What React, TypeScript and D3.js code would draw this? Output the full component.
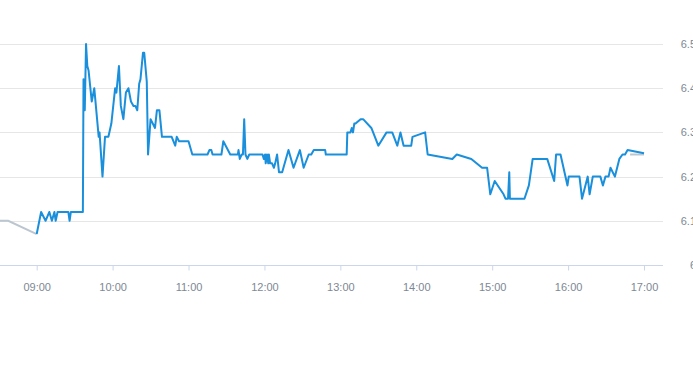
import React, { useRef, useEffect } from "react";
import * as d3 from "d3";

// intraday price, blue series
const times = [
  "09:00:00", "09:03:30", "09:07:00", "09:10:00", "09:12:00", "09:14:00", "09:15:00", "09:16:30",
  "09:25:00", "09:26:00", "09:27:00", "09:36:30", "09:37:00", "09:38:00", "09:39:00", "09:40:00",
  "09:41:00", "09:43:30", "09:45:30", "09:49:00", "09:49:40", "09:52:00", "09:54:00", "09:56:40",
  "09:59:00", "10:02:00", "10:03:00", "10:05:00", "10:06:30", "10:08:30", "10:10:30", "10:12:30",
  "10:14:30", "10:16:30", "10:18:00", "10:19:30", "10:21:00", "10:22:00", "10:24:00", "10:25:00",
  "10:27:00", "10:28:00", "10:30:00", "10:33:30", "10:35:00", "10:37:00", "10:39:00", "10:46:40",
  "10:49:30", "10:50:40", "10:52:30", "11:00:00", "11:03:00", "11:15:00", "11:16:30", "11:18:00",
  "11:19:00", "11:26:00", "11:27:30", "11:33:00", "11:39:00", "11:39:30", "11:40:30", "11:42:00",
  "11:43:00", "11:44:00", "11:45:00", "11:46:30", "11:48:00", "11:58:30", "11:59:30", "12:00:30",
  "12:01:00", "12:02:00", "12:03:00", "12:03:30", "12:04:30", "12:06:00", "12:07:30", "12:08:30",
  "12:10:00", "12:11:30", "12:14:00", "12:19:00", "12:23:00", "12:28:00", "12:31:00", "12:35:00",
  "12:37:00", "12:39:00", "12:48:00", "12:48:30", "13:05:00", "13:05:30", "13:08:00", "13:09:00",
  "13:10:00", "13:11:00", "13:12:00", "13:16:00", "13:18:00", "13:24:30", "13:30:00", "13:36:30",
  "13:41:00", "13:45:00", "13:47:30", "13:50:00", "13:56:00", "13:57:00", "14:07:00", "14:09:00",
  "14:28:30", "14:32:00", "14:43:30", "14:52:00", "14:56:00", "14:58:30", "15:02:00", "15:09:00",
  "15:10:30", "15:12:30", "15:13:30", "15:14:00", "15:25:30", "15:29:00", "15:32:00", "15:43:30",
  "15:49:00", "15:50:30", "15:54:00", "15:59:30", "16:00:30", "16:09:00", "16:11:00", "16:15:30",
  "16:17:00", "16:19:30", "16:25:30", "16:27:30", "16:29:30", "16:32:00", "16:33:30", "16:37:00",
  "16:40:30", "16:43:00", "16:45:00", "16:47:00", "17:00:00",
];
const prices = [
  6.07, 6.12, 6.10, 6.12, 6.10, 6.12, 6.10, 6.12,
  6.12, 6.10, 6.12, 6.12, 6.42, 6.35, 6.50, 6.45,
  6.44, 6.37, 6.40, 6.29, 6.30, 6.20, 6.29, 6.29,
  6.32, 6.40, 6.39, 6.45, 6.36, 6.33, 6.39, 6.40,
  6.37, 6.36, 6.36, 6.35, 6.41, 6.42, 6.48, 6.48,
  6.415, 6.25, 6.33, 6.31, 6.35, 6.35, 6.29, 6.29,
  6.27, 6.29, 6.28, 6.28, 6.25, 6.25, 6.26, 6.26,
  6.25, 6.25, 6.28, 6.25, 6.25, 6.26, 6.24, 6.25,
  6.25, 6.33, 6.25, 6.24, 6.25, 6.25, 6.24, 6.25,
  6.23, 6.25, 6.23, 6.25, 6.23, 6.23, 6.22, 6.23,
  6.25, 6.21, 6.21, 6.26, 6.22, 6.26, 6.22, 6.25,
  6.25, 6.26, 6.26, 6.25, 6.25, 6.30, 6.30, 6.31,
  6.30, 6.32, 6.32, 6.33, 6.33, 6.31, 6.27, 6.30,
  6.30, 6.27, 6.30, 6.27, 6.27, 6.29, 6.30, 6.25,
  6.24, 6.25, 6.24, 6.22, 6.22, 6.16, 6.19, 6.16,
  6.15, 6.15, 6.21, 6.15, 6.15, 6.18, 6.24, 6.24,
  6.19, 6.25, 6.25, 6.18, 6.20, 6.20, 6.15, 6.20,
  6.16, 6.20, 6.20, 6.18, 6.20, 6.20, 6.22, 6.20,
  6.24, 6.25, 6.25, 6.26, 6.253,
];

// grey reference segments (pre-open and close)
const preTimes = ["08:31:00", "08:37:30", "09:00:00"];
const preValues = [6.1, 6.1, 6.07];
const closeTimes = ["16:49:00", "17:00:00"];
const closeValues = [6.25, 6.25];

const yTicks = [6, 6.1, 6.2, 6.3, 6.4, 6.5];
const xTicks = ["09:00", "10:00", "11:00", "12:00", "13:00", "14:00", "15:00", "16:00", "17:00"];
const xStart = "08:31:00";
const xEnd = "17:15:00";

function PriceChart(props) {
  const { width, height } = props;
  let svgRef = useRef(null);

  const draw = () => {
    const svg = d3.select(svgRef.current);
    const parse = d3.timeParse("%H:%M:%S");
    const parseTick = d3.timeParse("%H:%M");

    const plotRight = 663;
    const x = d3.scaleTime().domain([parse(xStart), parse(xEnd)]).range([0, plotRight]);
    const y = d3.scaleLinear().domain([6, 6.5]).range([265, 44]);

    const g = svg.append("g");

    // gridlines
    g.selectAll(".grid")
      .data(yTicks.slice(1))
      .join("line")
      .attr("x1", 0)
      .attr("x2", plotRight)
      .attr("y1", d => Math.round(y(d)) + 0.5)
      .attr("y2", d => Math.round(y(d)) + 0.5)
      .attr("stroke", "#e6e6e6");

    // y labels on the right (cut by the edge, like the original)
    g.selectAll(".ylab")
      .data(yTicks)
      .join("text")
      .attr("x", 696)
      .attr("y", d => y(d) + 4)
      .attr("text-anchor", "end")
      .attr("font-family", "'Liberation Sans', Arial, sans-serif")
      .attr("font-size", 11)
      .attr("fill", "#7d8894")
      .text(d => d3.format("~g")(d));

    // x axis
    const xAxis = d3
      .axisBottom(x)
      .tickValues(xTicks.map(t => parseTick(t)))
      .tickFormat(d3.timeFormat("%H:%M"))
      .tickSize(5)
      .tickPadding(13);
    const ax = g.append("g").attr("transform", "translate(0,265.5)").call(xAxis);
    ax.select(".domain").attr("d", `M0,0H${plotRight}`).attr("stroke", "#ccd6eb");
    ax.selectAll(".tick line").attr("stroke", "#ccd6eb");
    ax.selectAll(".tick text")
      .attr("font-family", "'Liberation Sans', Arial, sans-serif")
      .attr("font-size", 11)
      .attr("fill", "#7d8894");

    const line = d3
      .line()
      .x(d => x(d[0]))
      .y(d => y(d[1]));

    const pre = preTimes.map((t, i) => [parse(t), preValues[i]]);
    const close = closeTimes.map((t, i) => [parse(t), closeValues[i]]);
    const main = times.map((t, i) => [parse(t), prices[i]]);

    [pre, close].forEach(seg => {
      g.append("path")
        .datum(seg)
        .attr("d", line)
        .attr("fill", "none")
        .attr("stroke", "#bcc6d0")
        .attr("stroke-width", 2);
    });

    g.append("path")
      .datum(main)
      .attr("d", line)
      .attr("fill", "none")
      .attr("stroke", "#1a8fdb")
      .attr("stroke-width", 2)
      .attr("stroke-linejoin", "round");
  };

  useEffect(() => {
    draw();
    return () => {
      d3.select(svgRef.current).selectAll("*").remove();
    };
  });

  return <svg ref={svgRef} width={width} height={height} style={{ display: "block" }}></svg>;
}

export default function App() {
  return (
    <div style={{ position: "absolute", left: 0, top: 0, background: "#fff" }}>
      <PriceChart width={693} height={365} />
    </div>
  );
}
